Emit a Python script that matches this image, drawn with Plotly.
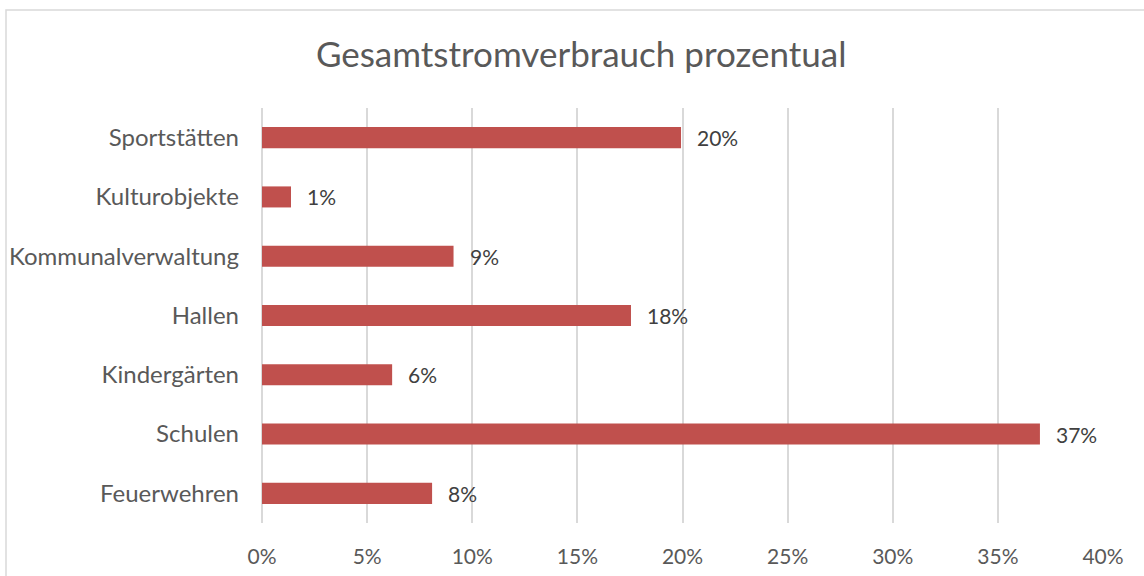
import plotly.graph_objects as go

categories = ["Feuerwehren", "Schulen", "Kindergärten", "Hallen",
              "Kommunalverwaltung", "Kulturobjekte", "Sportstätten"]
values = [8.09, 37.0, 6.19, 17.55, 9.11, 1.38, 19.93]
labels = ["8%", "37%", "6%", "18%", "9%", "1%", "20%"]
tick_vals = [0, 5, 10, 15, 20, 25, 30, 35, 40]
tick_text = ["0%", "5%", "10%", "15%", "20%", "25%", "30%", "35%", "40%"]

FONT = "Lato"
W, H = 1144, 576
ML, MR, MT, MB = 262, 41, 108, 53

fig = go.Figure()
fig.add_trace(go.Bar(
    x=values, y=categories, orientation="h",
    marker=dict(color="#C0504D", line=dict(width=0)),
    hoverinfo="skip",
))

for v, c, t in zip(values, categories, labels):
    fig.add_annotation(x=v, y=c, text=t, showarrow=False, xanchor="left",
                       xshift=14, font=dict(family=FONT, size=21, color="#404040"))

plot_w = W - ML - MR
plot_h = H - MT - MB
fig.add_shape(type="rect", xref="paper", yref="paper",
              x0=(6 - ML) / plot_w, x1=(W + 20 - ML) / plot_w,
              y0=-(H + 20 - (H - MB)) / plot_h, y1=(H - MB - 10) / plot_h,
              line=dict(color="#D9D9D9", width=1.5), fillcolor="rgba(0,0,0,0)",
              layer="below")

fig.update_layout(
    width=W, height=H,
    margin=dict(l=ML, r=MR, t=MT, b=MB, pad=0, autoexpand=False),
    paper_bgcolor="white", plot_bgcolor="white",
    bargap=0.645,
    showlegend=False,
    title=dict(text="Gesamtstromverbrauch prozentual", x=0.508, xref="container",
               xanchor="center", y=1 - 55 / H, yanchor="middle", yref="container",
               font=dict(family=FONT, size=35, color="#595959")),
    xaxis=dict(range=[0, 40], tickvals=tick_vals, ticktext=tick_text,
               automargin=False,
               showgrid=True, gridcolor="#D9D9D9", gridwidth=1.5,
               zeroline=True, zerolinecolor="#D9D9D9", zerolinewidth=1.5,
               showline=False, ticks="", ticklabelstandoff=19,
               tickfont=dict(family=FONT, size=21, color="#595959"),
               fixedrange=True),
    yaxis=dict(automargin=False,
               showgrid=False, zeroline=False, showline=False, ticks="",
               ticklabelstandoff=22,
               tickfont=dict(family=FONT, size=24, color="#595959"),
               fixedrange=True),
)

fig.write_html("out.html", config={"displayModeBar": False},
               post_script="document.body.style.margin='0';")
